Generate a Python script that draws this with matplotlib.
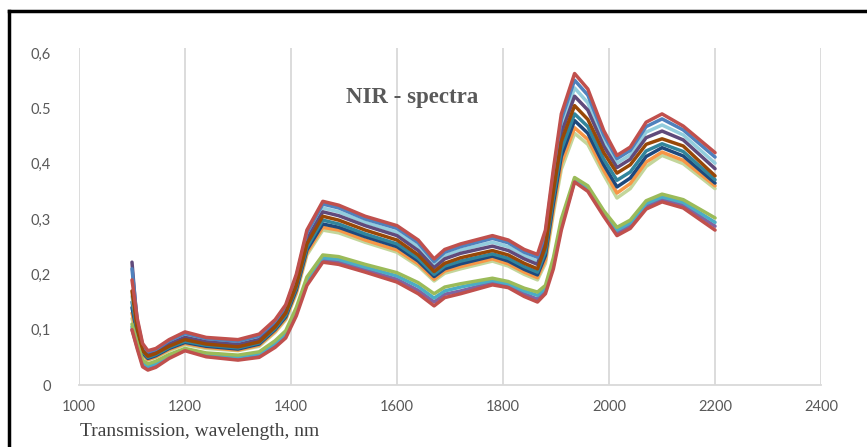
import matplotlib
matplotlib.use('Agg')
import matplotlib.pyplot as plt
from matplotlib.lines import Line2D

# wavelength grid, nm
wl = [1100, 1110, 1120, 1130, 1145, 1170, 1200, 1240, 1300, 1340, 1370, 1390, 1410,
      1430, 1460, 1490, 1540, 1600, 1640, 1670, 1690, 1720, 1780, 1810, 1840, 1865,
      1880, 1895, 1910, 1935, 1960, 1990, 2015, 2040, 2070, 2100, 2140, 2200]

# spectra (upper bundle, top to bottom)
top_red = [0.19, 0.12, 0.075, 0.062, 0.066, 0.082, 0.096, 0.086, 0.082, 0.092, 0.118, 0.145, 0.20,
           0.28, 0.332, 0.325, 0.305, 0.288, 0.262, 0.228, 0.245, 0.255, 0.27, 0.262, 0.245, 0.236,
           0.28, 0.39, 0.49, 0.563, 0.535, 0.46, 0.415, 0.43, 0.475, 0.49, 0.468, 0.42]
blue = [0.21, 0.116, 0.072, 0.060, 0.064, 0.080, 0.093, 0.084, 0.079, 0.089, 0.115, 0.142, 0.196,
        0.275, 0.327, 0.320, 0.300, 0.283, 0.257, 0.223, 0.240, 0.250, 0.265, 0.257, 0.240, 0.231,
        0.274, 0.382, 0.480, 0.551, 0.524, 0.452, 0.409, 0.424, 0.467, 0.481, 0.461, 0.412]
light_blue = [0.16, 0.111, 0.069, 0.058, 0.062, 0.077, 0.090, 0.081, 0.076, 0.086, 0.112, 0.138, 0.191,
              0.269, 0.320, 0.313, 0.294, 0.276, 0.250, 0.218, 0.234, 0.244, 0.258, 0.250, 0.234, 0.224,
              0.266, 0.372, 0.467, 0.537, 0.510, 0.442, 0.401, 0.416, 0.457, 0.470, 0.452, 0.401]
purple = [0.222, 0.106, 0.066, 0.055, 0.060, 0.074, 0.086, 0.078, 0.073, 0.082, 0.109, 0.135, 0.186,
          0.263, 0.313, 0.306, 0.288, 0.270, 0.243, 0.212, 0.228, 0.238, 0.251, 0.243, 0.228, 0.218,
          0.259, 0.362, 0.455, 0.522, 0.497, 0.432, 0.393, 0.408, 0.447, 0.459, 0.443, 0.391]
brown = [0.17, 0.10, 0.062, 0.052, 0.057, 0.07, 0.082, 0.074, 0.069, 0.078, 0.105, 0.13, 0.18,
         0.255, 0.305, 0.298, 0.28, 0.262, 0.235, 0.205, 0.22, 0.23, 0.243, 0.235, 0.22, 0.21,
         0.25, 0.35, 0.44, 0.505, 0.48, 0.42, 0.383, 0.398, 0.435, 0.445, 0.432, 0.378]
teal = [0.15, 0.096, 0.060, 0.050, 0.055, 0.068, 0.079, 0.072, 0.067, 0.076, 0.102, 0.126, 0.176,
        0.249, 0.298, 0.291, 0.273, 0.255, 0.229, 0.200, 0.215, 0.224, 0.237, 0.229, 0.214, 0.204,
        0.241, 0.338, 0.425, 0.490, 0.467, 0.408, 0.370, 0.385, 0.423, 0.436, 0.422, 0.371]
navy = [0.14, 0.092, 0.058, 0.048, 0.053, 0.066, 0.077, 0.070, 0.065, 0.074, 0.100, 0.123, 0.172,
        0.244, 0.291, 0.285, 0.268, 0.250, 0.224, 0.196, 0.210, 0.219, 0.233, 0.224, 0.209, 0.199,
        0.234, 0.328, 0.413, 0.478, 0.455, 0.398, 0.358, 0.374, 0.413, 0.429, 0.414, 0.365]
orange = [0.13, 0.088, 0.056, 0.046, 0.051, 0.064, 0.075, 0.068, 0.063, 0.072, 0.097, 0.120, 0.168,
          0.239, 0.285, 0.280, 0.262, 0.244, 0.219, 0.191, 0.206, 0.214, 0.228, 0.219, 0.204, 0.194,
          0.226, 0.318, 0.400, 0.465, 0.444, 0.388, 0.347, 0.364, 0.403, 0.421, 0.406, 0.360]
light_green = [0.12, 0.085, 0.055, 0.045, 0.05, 0.062, 0.073, 0.066, 0.062, 0.07, 0.095, 0.118, 0.165,
               0.235, 0.28, 0.275, 0.258, 0.24, 0.215, 0.188, 0.202, 0.21, 0.224, 0.215, 0.20, 0.19,
               0.22, 0.31, 0.39, 0.455, 0.435, 0.38, 0.338, 0.355, 0.395, 0.415, 0.40, 0.355]

# lower group
green = [0.11, 0.075, 0.045, 0.038, 0.043, 0.055, 0.066, 0.058, 0.054, 0.06, 0.08, 0.098, 0.14,
         0.195, 0.235, 0.232, 0.218, 0.203, 0.185, 0.165, 0.177, 0.183, 0.193, 0.187, 0.175, 0.168,
         0.18, 0.23, 0.30, 0.375, 0.36, 0.315, 0.285, 0.298, 0.333, 0.345, 0.335, 0.302]
aqua = [0.105, 0.072, 0.041, 0.034, 0.039, 0.053, 0.065, 0.056, 0.051, 0.057, 0.076, 0.093, 0.135,
        0.190, 0.230, 0.227, 0.213, 0.197, 0.178, 0.157, 0.170, 0.177, 0.189, 0.183, 0.170, 0.162,
        0.175, 0.223, 0.293, 0.372, 0.356, 0.311, 0.280, 0.293, 0.328, 0.340, 0.330, 0.294]
violet = [0.10, 0.068, 0.037, 0.030, 0.035, 0.050, 0.063, 0.053, 0.048, 0.053, 0.072, 0.089, 0.130,
          0.185, 0.226, 0.222, 0.208, 0.191, 0.171, 0.150, 0.164, 0.170, 0.185, 0.179, 0.165, 0.155,
          0.170, 0.216, 0.286, 0.369, 0.353, 0.308, 0.275, 0.288, 0.323, 0.335, 0.325, 0.287]
bottom_red = [0.10, 0.065, 0.033, 0.027, 0.032, 0.048, 0.062, 0.051, 0.045, 0.05, 0.068, 0.085, 0.125,
              0.18, 0.222, 0.218, 0.204, 0.186, 0.165, 0.143, 0.158, 0.165, 0.181, 0.176, 0.16, 0.15,
              0.165, 0.21, 0.28, 0.367, 0.35, 0.305, 0.27, 0.283, 0.318, 0.331, 0.32, 0.28]

xticks = [1000, 1200, 1400, 1600, 1800, 2000, 2200, 2400]
yticks = [0, 0.1, 0.2, 0.3, 0.4, 0.5, 0.6]
ylabels = ['0', '0,1', '0,2', '0,3', '0,4', '0.5', '0,6']

# drawing order: inner lines first, outer ones on top
series = [
    (light_green, '#c3d69b'), (orange, '#f79646'), (navy, '#1f497d'), (teal, '#31859c'),
    (light_blue, '#93cddd'), (purple, '#604a7b'), (blue, '#4f81bd'), (brown, '#984807'),
    (violet, '#8064a2'), (aqua, '#4bacc6'), (green, '#9bbb59'),
    (top_red, '#c0504d'), (bottom_red, '#c0504d'),
]

fig = plt.figure(figsize=(8.67, 4.47), dpi=100)
ax = fig.add_axes([0.0911, 0.1387, 0.8559, 0.7550])

for vals, col in series:
    ax.plot(wl, vals, color=col, lw=2.5, solid_capstyle='round',
            solid_joinstyle='round', zorder=3)

ax.set_xlim(1000, 2400)
ax.set_ylim(0, 0.61)
ax.set_xticks(xticks)
ax.set_yticks(yticks)
ax.set_yticklabels(ylabels)
ax.grid(axis='x', color='#d9d9d9', lw=1.3)
ax.set_axisbelow(True)
for s in ['top', 'right', 'left']:
    ax.spines[s].set_visible(False)
ax.spines['bottom'].set_color('#d9d9d9')
ax.spines['bottom'].set_linewidth(1.3)
ax.tick_params(length=0, labelsize=10.5, labelcolor='#595959')
ax.tick_params(axis='y', pad=20)
ax.tick_params(axis='x', pad=11)
for lab in ax.get_xticklabels() + ax.get_yticklabels():
    lab.set_family('Lato')

ax.text(1628, 0.52, 'NIR - spectra', family='Liberation Serif', weight='bold',
        fontsize=16.5, color='#595959', ha='center', va='center')
fig.text(80 / 867, 1 - 432 / 447, 'Transmission, wavelength, nm', family='Liberation Serif',
         fontsize=14, color='#404040', ha='left', va='center')

# black frame around the chart (runs off the right and bottom edges)
fig.add_artist(Line2D([9 / 867, 9 / 867], [0, 1 - 11 / 447], color='black', lw=2.5))
fig.add_artist(Line2D([9 / 867, 1], [1 - 11 / 447, 1 - 11 / 447], color='black', lw=2.5))

plt.savefig('out.png', dpi=100)
